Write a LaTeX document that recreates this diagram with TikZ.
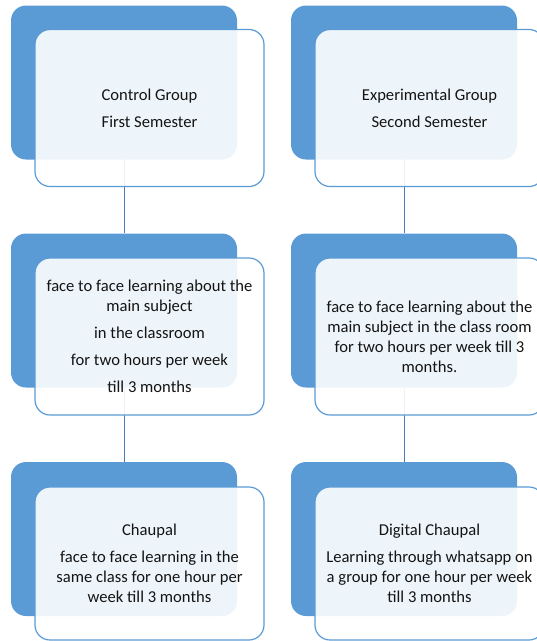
\documentclass[tikz,border=0pt]{standalone}
\usepackage{fontspec}
\setmainfont{Carlito}
\usetikzlibrary{positioning}
\definecolor{boxblue}{RGB}{91,155,213}
\definecolor{lineblue}{RGB}{74,126,187}
\definecolor{txtgray}{RGB}{20,20,20}

\begin{document}
\begin{tikzpicture}[x=1pt,y=-1pt,
  back/.style={fill=boxblue,rounded corners=15pt,minimum width=226pt,minimum height=154pt,inner sep=0pt},
  front/.style={draw=boxblue,line width=1.2pt,fill=white,fill opacity=0.9,text opacity=1,text=txtgray,rounded corners=15pt,minimum width=229pt,minimum height=157pt,inner sep=0pt,align=center,font=\fontsize{16.6}{20}\selectfont},
  link/.style={draw=lineblue,line width=1pt}]%two groups
\useasboundingbox (0,0) rectangle (537,641);
\clip (0,0) rectangle (537,641);
% back boxes
\node[back] (cb1) at (124,82.5) {};
\node[back] (cb2) at (124,310.5) {};
\node[back] (cb3) at (124,539) {};
\node[back] (eb1) at (404,82.5) {};
\node[back] (eb2) at (404,310.5) {};
\node[back] (eb3) at (404,539) {};
% connectors
\draw[link] (cb1.south) -- (cb2.north);
\draw[link] (cb2.south) -- (cb3.north);
\draw[link] (eb1.south) -- (eb2.north);
\draw[link] (eb2.south) -- (eb3.north);
% front boxes
\node[front] (cf1) at (149.5,108) {Control Group\\[7pt]First Semester};
\node[front] (cf2) at (149.5,336.5) {face to face learning about the\\main subject\\[7pt]in the classroom\\[7pt]for two hours per week\\[7pt]till 3 months};
\node[front,minimum height=153pt] (cf3) at (149.5,563.5) {Chaupal\\[7pt]face to face learning in the\\same class for one hour per\\week till 3 months};
\node[front] (ef1) at (429.5,108) {Experimental Group\\[7pt]Second Semester};
\node[front] (ef2) at (429.5,336.5) {face to face learning about the\\main subject in the class room\\for two hours per week till 3\\months.};
\node[front,minimum height=153pt] (ef3) at (429.5,563.5) {Digital Chaupal\\[7pt]Learning through whatsapp on\\a group for one hour per week\\till 3 months};
\end{tikzpicture}
\end{document}
